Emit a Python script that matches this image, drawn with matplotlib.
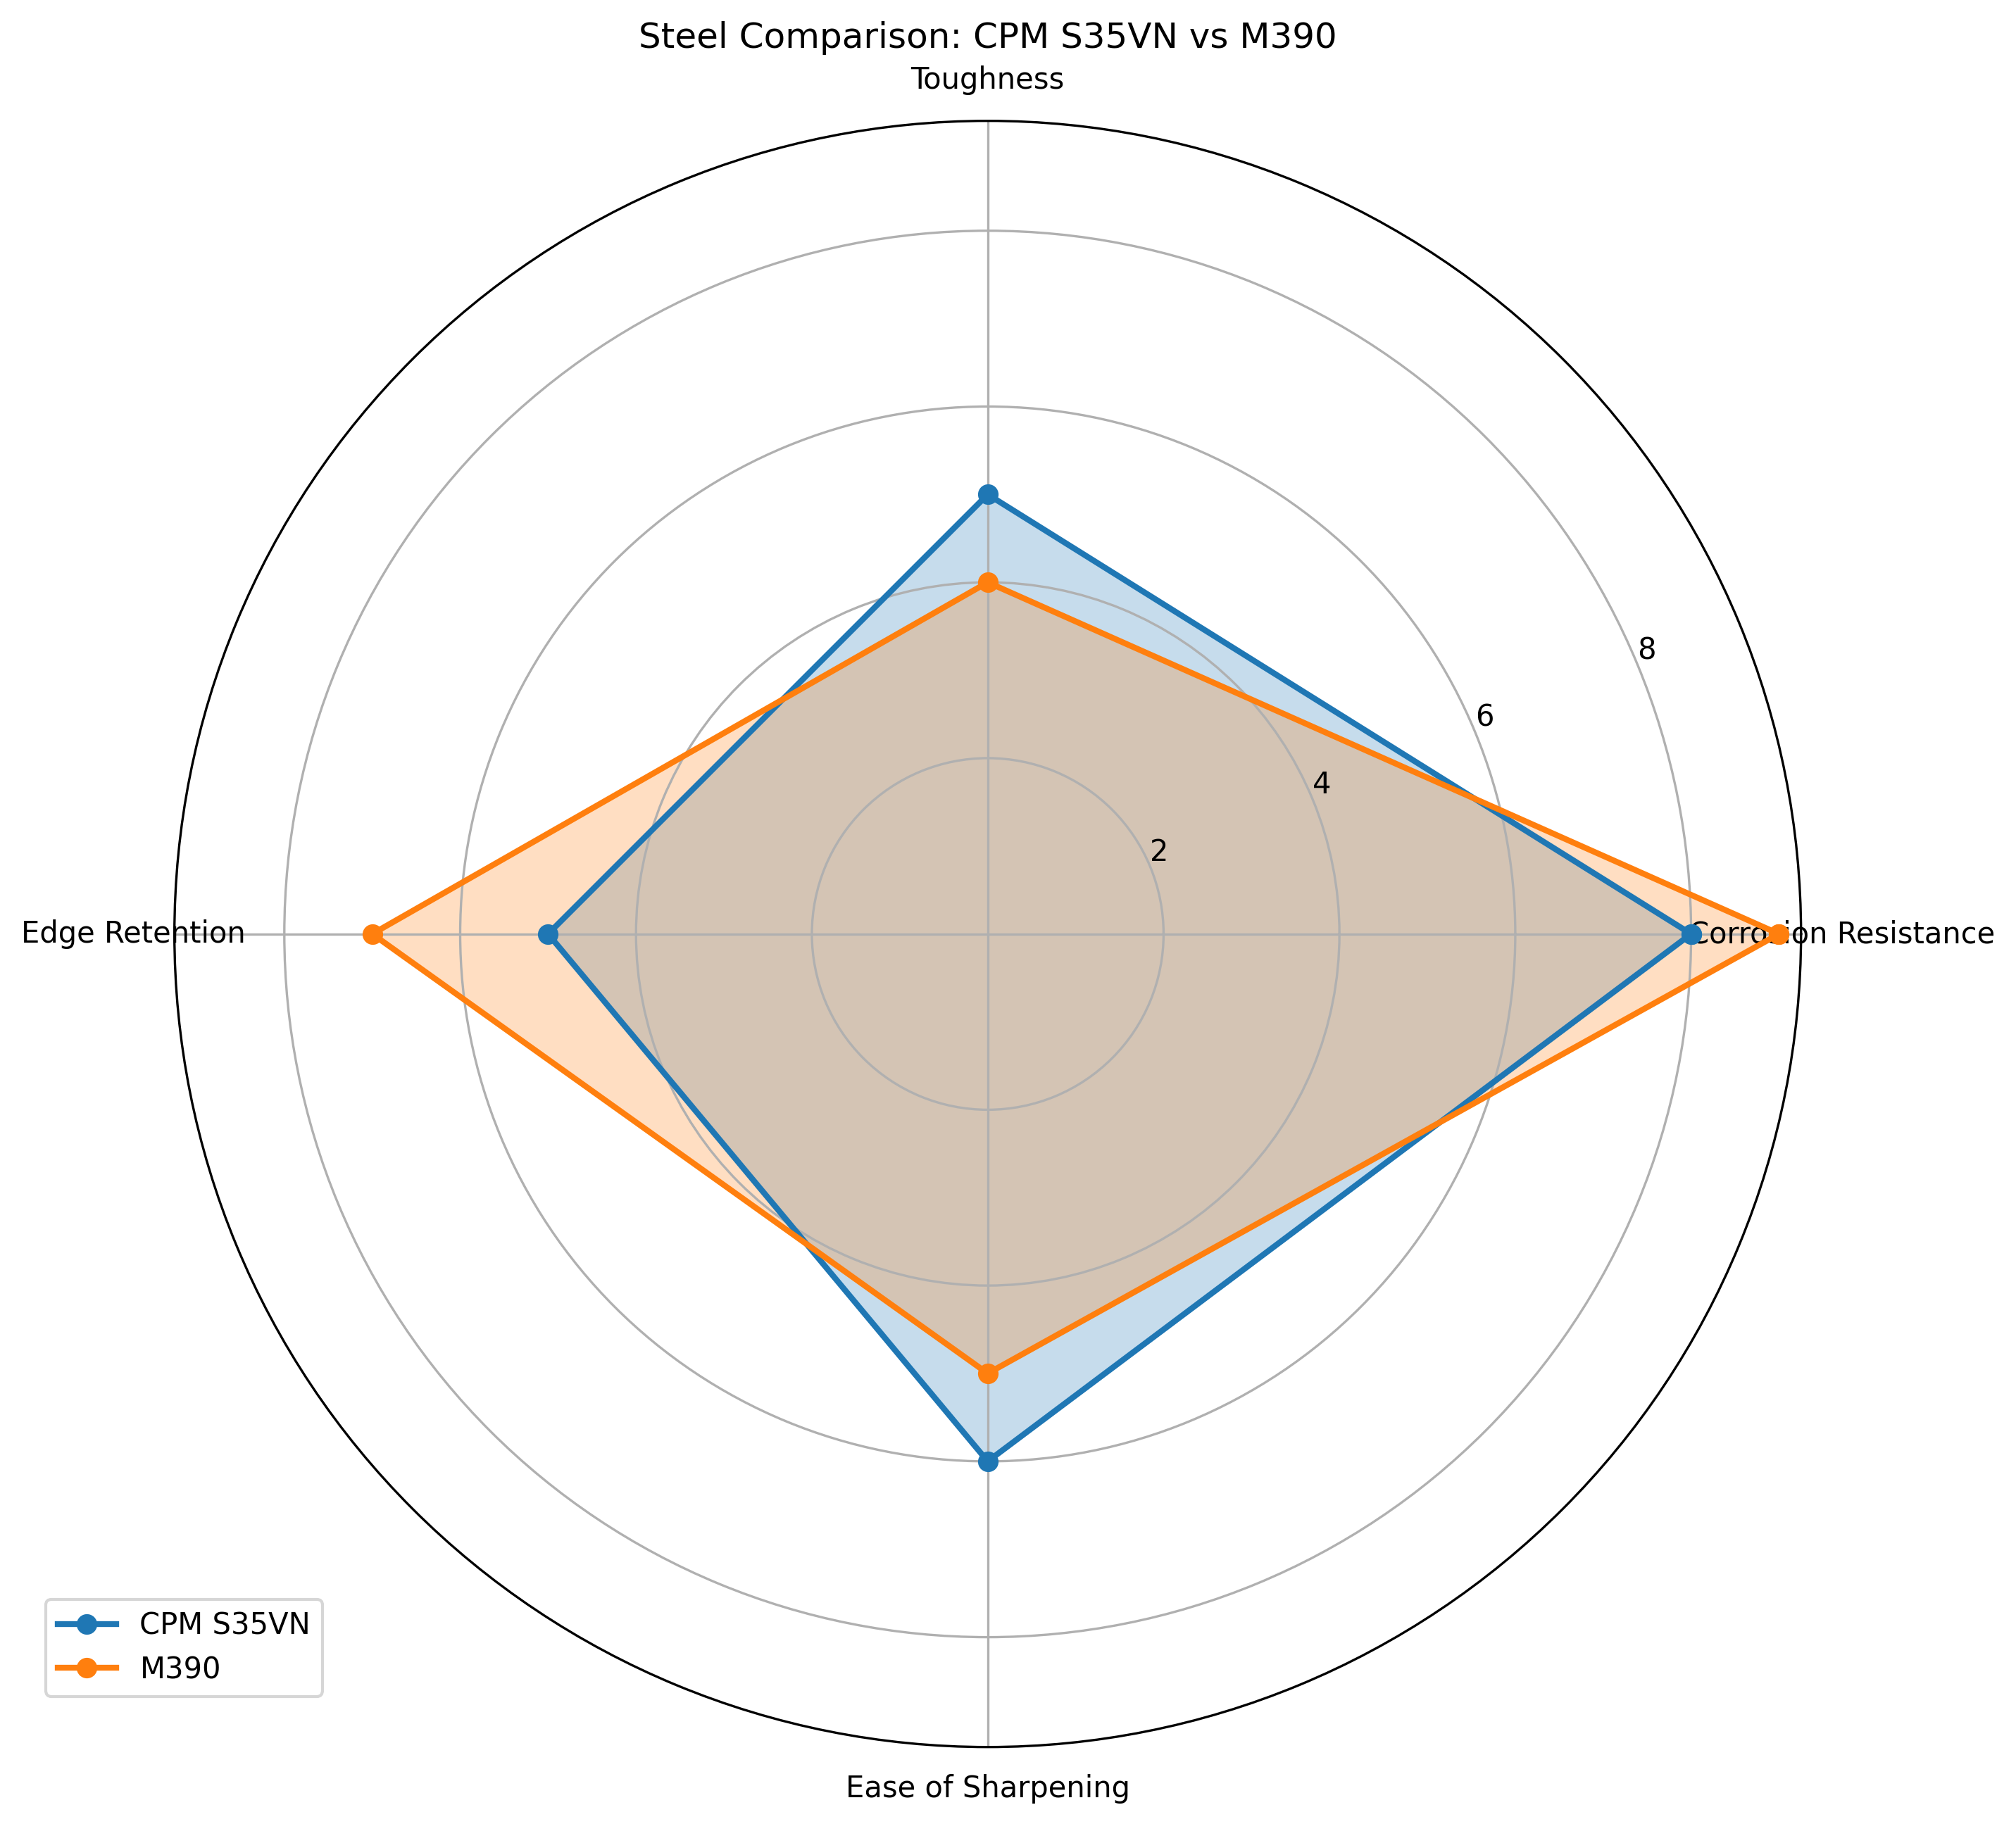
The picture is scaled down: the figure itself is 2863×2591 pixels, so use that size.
import matplotlib
matplotlib.use("Agg")
import matplotlib.pyplot as plt
import numpy as np

categories = ['Corrosion Resistance', 'Toughness', 'Edge Retention', 'Ease of Sharpening']
s35vn = [8, 5, 5, 6]
m390 = [9, 4, 7, 5]

angles = np.linspace(0, 2 * np.pi, len(categories), endpoint=False).tolist()
angles += angles[:1]

fig, ax = plt.subplots(figsize=(10, 10), subplot_kw=dict(polar=True))

for name, vals in [('CPM S35VN', s35vn), ('M390', m390)]:
    v = vals + vals[:1]
    ax.plot(angles, v, 'o-', linewidth=2, label=name)
    ax.fill(angles, v, alpha=0.25)

ax.set_xticks(angles[:-1])
ax.set_xticklabels(categories)
ax.set_title('Steel Comparison: CPM S35VN vs M390')
ax.legend(loc='upper right', bbox_to_anchor=(0.1, 0.1))

plt.savefig('out.png', dpi=300, bbox_inches='tight')
